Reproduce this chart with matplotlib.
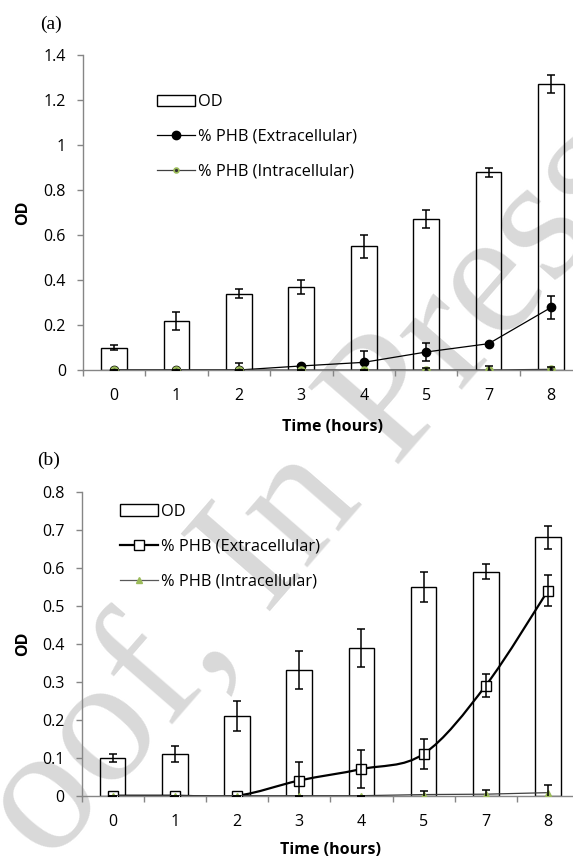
import matplotlib
matplotlib.use('Agg')
import matplotlib.pyplot as plt
from matplotlib.lines import Line2D
from matplotlib.patches import Patch, PathPatch
from matplotlib.path import Path
from matplotlib.ticker import FuncFormatter, FixedLocator

plt.rcParams['font.family'] = ['Open Sans', 'DejaVu Sans']

# data
hours = ['0', '1', '2', '3', '4', '5', '7', '8']

# panel (a)
od_a = [0.10, 0.22, 0.34, 0.37, 0.55, 0.67, 0.88, 1.27]
od_a_err = [0.01, 0.04, 0.02, 0.03, 0.05, 0.04, 0.02, 0.04]
ext_a = [0.0, 0.0, 0.0, 0.018, 0.034, 0.08, 0.117, 0.278]
ext_a_err = [0.0, 0.0, 0.03, 0.005, 0.05, 0.041, 0.005, 0.05]
int_a = [0.0, 0.0, 0.0, 0.0, 0.0, 0.0, 0.0, 0.003]
int_a_err = [0.0, 0.0, 0.0, 0.0, 0.0, 0.01, 0.02, 0.012]

# panel (b)
od_b = [0.10, 0.11, 0.21, 0.33, 0.39, 0.55, 0.59, 0.68]
od_b_err = [0.01, 0.02, 0.04, 0.05, 0.05, 0.04, 0.02, 0.03]
ext_b = [0.0, 0.0, 0.0, 0.04, 0.07, 0.11, 0.29, 0.54]
ext_b_err = [0.0, 0.0, 0.0, 0.048, 0.05, 0.04, 0.03, 0.04]
int_b = [0.0, 0.0, 0.0, 0.0, 0.0, 0.003, 0.004, 0.008]
int_b_err = [0.0, 0.0, 0.0, 0.0, 0.0, 0.01, 0.01, 0.02]

labels = ['OD', '% PHB (Extracellular)', '% PHB (Intracellular)']

GREEN = '#9bbb59'
GRAY = '#868686'


def smooth_path(xs, ys):
    # Excel style smoothed line (Catmull-Rom as cubic bezier)
    pts = list(zip(xs, ys))
    verts = [pts[0]]
    codes = [Path.MOVETO]
    n = len(pts)
    for i in range(n - 1):
        p0 = pts[i - 1] if i > 0 else pts[i]
        p1 = pts[i]
        p2 = pts[i + 1]
        p3 = pts[i + 2] if i + 2 < n else pts[i + 1]
        c1 = (p1[0] + (p2[0] - p0[0]) / 6.0, p1[1] + (p2[1] - p0[1]) / 6.0)
        c2 = (p2[0] - (p3[0] - p1[0]) / 6.0, p2[1] - (p3[1] - p1[1]) / 6.0)
        verts += [c1, c2, p2]
        codes += [Path.CURVE4] * 3
    return Path(verts, codes)


def style_axes(ax, ymax, ystep, label_pos):
    ax.set_xlim(-0.5, len(hours) - 0.5)
    ax.set_ylim(0, ymax)
    ax.set_facecolor('none')
    for s in ['top', 'right']:
        ax.spines[s].set_visible(False)
    for s in ['left', 'bottom']:
        ax.spines[s].set_color(GRAY)
        ax.spines[s].set_linewidth(1.0)
    ax.set_xticks(list(range(len(hours))))
    ax.set_xticklabels(hours)
    ax.xaxis.set_minor_locator(FixedLocator([i - 0.5 for i in range(len(hours) + 1)]))
    ax.tick_params(axis='x', which='major', length=0, pad=13, labelsize=11.5)
    ax.tick_params(axis='x', which='minor', length=4, width=1.0, color=GRAY, direction='out')
    yt = [round(i * ystep, 2) for i in range(int(round(ymax / ystep)) + 1)]
    ax.set_yticks(yt)
    ax.yaxis.set_major_formatter(FuncFormatter(lambda v, p: '%g' % v))
    ax.tick_params(axis='y', length=4, width=1.0, color=GRAY, direction='out', pad=8, labelsize=11.5)
    ax.set_xlabel('Time (hours)', fontsize=11.5, fontweight='bold')
    ax.xaxis.set_label_coords(0.5, label_pos[0])
    ax.set_ylabel('OD', fontsize=11.5, fontweight='bold')
    ax.yaxis.set_label_coords(label_pos[1], 0.5)
    ax.xaxis.label.set_va('center')
    ax.yaxis.label.set_va('center')


fig = plt.figure(figsize=(5.73, 8.59), dpi=100)

# "Proof, In Press" watermark, drawn behind the charts
fig.text(262 / 573, 1 - 556 / 859, 'Proof, In Press', rotation=49, fontsize=130,
         family='Liberation Serif', color='#d9d9d9', ha='center', va='center',
         rotation_mode='anchor', zorder=-5)

x = list(range(len(hours)))
ebkw = dict(fmt='none', ecolor='black', elinewidth=1.1, capsize=3, capthick=1.1)
legkw = dict(loc='upper left', frameon=False, fontsize=11.8, handlelength=2.3,
             handletextpad=0.2, labelspacing=1.15, borderpad=0, borderaxespad=0)

# ---------------- panel (a) ----------------
ax1 = fig.add_axes([82.7 / 573, 1 - 370 / 859, 499.6 / 573, 315 / 859])
ax1.bar(x, od_a, width=0.41, facecolor='none', edgecolor='black', linewidth=1.0, zorder=2)
ax1.errorbar(x, od_a, yerr=od_a_err, zorder=3, **ebkw)
ax1.plot(x, ext_a, color='black', lw=0.9, marker='o', ms=6, mfc='black', mec='black', zorder=4)
ax1.errorbar(x, ext_a, yerr=ext_a_err, zorder=4, **ebkw)
ax1.plot(x, int_a, color='#404040', lw=0.9, marker='o', ms=4.5, mfc='#333333', mec=GREEN, mew=1.6, zorder=5)
ax1.errorbar(x, int_a, yerr=int_a_err, zorder=5, **ebkw)
style_axes(ax1, 1.4, 0.2, (-0.181, -0.1195))

h_a = [Patch(facecolor='white', edgecolor='black', linewidth=1.0),
       Line2D([], [], color='black', lw=0.9, marker='o', ms=6, mfc='black', mec='black'),
       Line2D([], [], color='#404040', lw=0.9, marker='o', ms=3.5, mfc='#333333', mec=GREEN, mew=1.2)]
ax1.legend(h_a, labels, bbox_to_anchor=(0.1487, 0.876), **legkw)

fig.text(40 / 573, 1 - 24 / 859, '(a)', family='Liberation Serif', fontsize=14, va='center', ha='left')

# ---------------- panel (b) ----------------
ax2 = fig.add_axes([81.5 / 573, 1 - 795.7 / 859, 497.6 / 573, 304 / 859])
ax2.bar(x, od_b, width=0.41, facecolor='none', edgecolor='black', linewidth=1.0, zorder=2)
ax2.errorbar(x, od_b, yerr=od_b_err, zorder=3, **ebkw)
ax2.add_patch(PathPatch(smooth_path(x, ext_b), facecolor='none', edgecolor='black', lw=1.6, zorder=4))
ax2.plot(x, ext_b, ls='none', marker='s', ms=7, mfc='white', mec='black', mew=1.0, zorder=5)
ax2.errorbar(x, ext_b, yerr=ext_b_err, zorder=5, **ebkw)
ax2.plot(x, int_b, color='#404040', lw=0.9, marker='^', ms=5, mfc=GREEN, mec=GREEN, zorder=6)
ax2.errorbar(x, int_b, yerr=int_b_err, zorder=6, **ebkw)
style_axes(ax2, 0.8, 0.1, (-0.1786, -0.1176))

h_b = [Patch(facecolor='white', edgecolor='black', linewidth=1.0),
       Line2D([], [], color='black', lw=1.6, marker='s', ms=7, mfc='white', mec='black', mew=1.0),
       Line2D([], [], color='#595959', lw=0.9, marker='^', ms=4, mfc=GREEN, mec=GREEN)]
ax2.legend(h_b, labels, bbox_to_anchor=(0.0774, 0.961), **legkw)

fig.text(37 / 573, 1 - 460 / 859, '(b)', family='Liberation Serif', fontsize=14, va='center', ha='left')

fig.savefig('out.png', dpi=100)
plt.close(fig)
